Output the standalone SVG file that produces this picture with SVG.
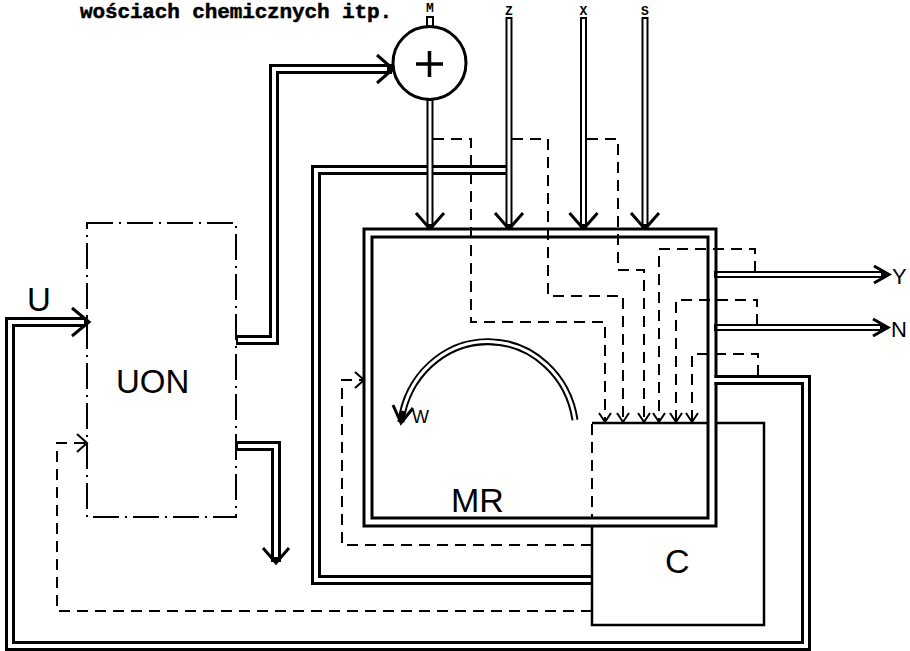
<svg xmlns="http://www.w3.org/2000/svg" width="910" height="651" viewBox="0 0 910 651">
<style>
.bk{fill:none;stroke:#000;stroke-linejoin:miter;stroke-linecap:butt}
.wh{fill:none;stroke:#fff;stroke-linejoin:miter;stroke-linecap:butt}
.b7{stroke-width:7}.w3{stroke-width:3}
.b10{stroke-width:10}.w4{stroke-width:4}
.b11{stroke-width:11}.w5{stroke-width:5}
.dash{fill:none;stroke:#000;stroke-width:2;stroke-dasharray:11 7}
.ar{fill:none;stroke:#000;stroke-width:3;stroke-linejoin:miter}
.ars{fill:none;stroke:#000;stroke-width:2}
.thin{fill:none;stroke:#000;stroke-width:2.5}
.lbl{font-family:"Liberation Sans",Arial,sans-serif;fill:#000}
.sm{font-family:"Liberation Mono","Courier New",monospace;font-weight:bold;font-size:13px;text-anchor:middle;fill:#000}
</style>
<rect x="0" y="0" width="910" height="651" fill="#fff"/>
<text x="80" y="18" font-family="Liberation Mono,Courier New,monospace" font-weight="bold" font-size="21" stroke="#000" stroke-width="0.5" textLength="312" lengthAdjust="spacing">wościach chemicznych itp.</text>

<g id="connectors">
  <path class="bk b10" d="M509 170 H316 V580 H592"/>
  <path class="wh w4" d="M509 170 H316 V580 H592"/>
  <path class="bk b10" d="M236 340 H274 V69 H392"/>
  <path class="wh w4" d="M238 340 H274 V69 H387"/>
  <polyline class="ar" points="377,55 393,69 377,83"/>
  <path class="bk b10" d="M236 446 H276 V562"/>
  <path class="wh w4" d="M238 446 H276 V557"/>
  <polyline class="ar" points="263,548 276,563 289,548"/>
  <path class="bk b7" d="M430 99 V229"/>
  <path class="wh w3" d="M430 101 V224"/>
  <polyline class="ar" points="416,213 430,229 444,213"/>
  <path class="bk b7" d="M509 17 V229"/>
  <path class="wh w3" d="M509 19 V224"/>
  <polyline class="ar" points="495,213 509,229 523,213"/>
  <path class="bk b7" d="M583.5 17 V229"/>
  <path class="wh w3" d="M583.5 19 V224"/>
  <polyline class="ar" points="569.5,213 583.5,229 597.5,213"/>
  <path class="bk b7" d="M645 17 V229"/>
  <path class="wh w3" d="M645 19 V224"/>
  <polyline class="ar" points="631,213 645,229 659,213"/>
  <text class="sm" x="430" y="12">M</text>
  <text class="sm" x="509" y="15">Z</text>
  <text class="sm" x="583.5" y="15">X</text>
  <text class="sm" x="645" y="15">S</text>
</g>

<g id="C">
  <path class="thin" d="M592 423 H764 V625 H592 V518"/>
  <path class="dash" d="M592 424 V518"/>
  <text class="lbl" x="665" y="573" font-size="34">C</text>
</g>

<g id="MR">
  <rect class="bk b11" x="368" y="233" width="344" height="289"/>
  <rect class="wh w5" x="368" y="233" width="344" height="289"/>
  <path class="bk b7" d="M575 420 A88 93 0 0 0 400.9 422.1"/>
  <path class="wh w3" d="M575 420 A88 93 0 0 0 403 410.9"/>
  <polyline class="ar" points="393,405 401,423 413,408"/>
  <text class="lbl" x="412" y="423" font-size="18">W</text>
  <text class="lbl" x="451" y="512" font-size="34">MR</text>
</g>

<g id="outputs">
  <path class="bk b7" d="M714 274.5 H886"/>
  <path class="wh w3" d="M717.5 274.5 H881"/>
  <polyline class="ar" points="874,266 889,274.5 874,283"/>
  <text class="lbl" x="892" y="284" font-size="22">Y</text>
  <path class="bk b7" d="M714 327.5 H885"/>
  <path class="wh w3" d="M717.5 327.5 H880"/>
  <polyline class="ar" points="873,319 888,327.5 873,336"/>
  <text class="lbl" x="891" y="337" font-size="22">N</text>
  <path class="bk b10" d="M714.5 380 H806 V646 H10 V322 H88"/>
  <path class="wh w4" d="M712 380 H806 V646 H10 V322 H84"/>
  <polyline class="ar" points="72,308 89,322 72,336"/>
  <text class="lbl" x="27" y="311" font-size="33">U</text>
</g>

<g id="UON">
  <rect x="87" y="223" width="149" height="294" fill="none" stroke="#000" stroke-width="2" stroke-dasharray="26 6 2 6"/>
  <text class="lbl" x="116" y="393" font-size="33">UON</text>
</g>

<g id="adder">
  <rect x="427" y="17" width="6" height="10" fill="#fff" stroke="#000" stroke-width="2"/>
  <circle cx="429.5" cy="63" r="36.5" fill="#fff" stroke="#000" stroke-width="3"/>
  <path d="M416 64 H443 M429.5 51 V77" stroke="#000" stroke-width="3.5" fill="none"/>
</g>

<g id="signals">
  <path class="dash" d="M433 139 H471 V322 H605 V421"/>
  <polyline class="ars" points="599,413 605,422 611,413"/>
  <path class="dash" d="M512 139 H548 V296 H623 V421"/>
  <polyline class="ars" points="617,413 623,422 629,413"/>
  <path class="dash" d="M587 139 H618 V270 H644 V421"/>
  <polyline class="ars" points="638,413 644,422 650,413"/>
  <path class="dash" d="M755 272 V249 H659 V421"/>
  <polyline class="ars" points="653,413 659,422 665,413"/>
  <path class="dash" d="M757 325 V300 H676 V421"/>
  <polyline class="ars" points="670,413 676,422 682,413"/>
  <path class="dash" d="M758 376 V354 H692 V421"/>
  <polyline class="ars" points="686,413 692,422 698,413"/>
  <path class="dash" d="M592 545 H342 V380 H363"/>
  <polyline class="ars" points="355,372 364,380 355,388"/>
  <path class="dash" d="M592 611 H57 V443 H86"/>
  <polyline class="ars" points="77,434 87,443 77,452"/>
</g>
</svg>
